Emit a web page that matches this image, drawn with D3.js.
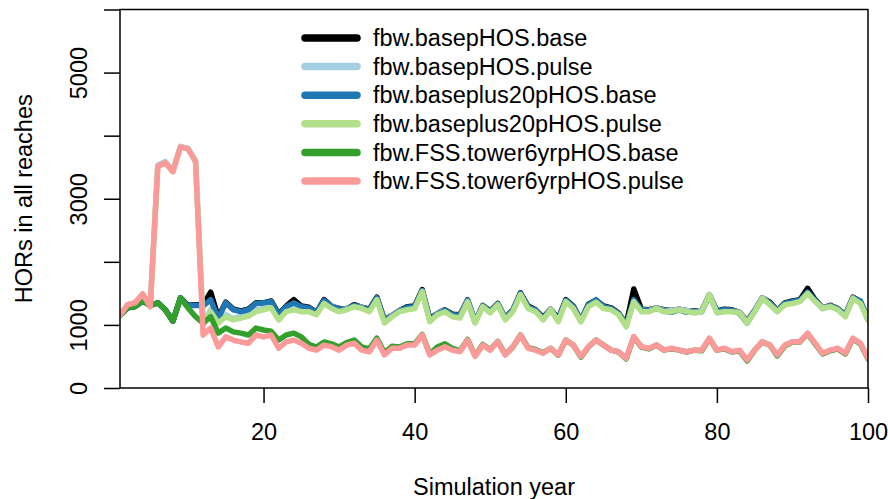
<!DOCTYPE html>
<html>
<head>
<meta charset="utf-8">
<script src="https://cdn.jsdelivr.net/npm/d3@7"></script>
<style>
  body { margin: 0; background: #fff; }
  text { font-family: "Liberation Sans", Arial, sans-serif; fill: #000; }
</style>
</head>
<body>
<div id="chart"></div>
<script>
// series names (legend order = draw order)
var seriesNames = ["fbw.basepHOS.base", "fbw.basepHOS.pulse", "fbw.baseplus20pHOS.base",
                   "fbw.baseplus20pHOS.pulse", "fbw.FSS.tower6yrpHOS.base", "fbw.FSS.tower6yrpHOS.pulse"];
var seriesColors = ["#000000", "#A6CEE3", "#1F78B4", "#B2DF8A", "#33A02C", "#FB9A99"];

var years = d3.range(1, 101);

var basepHOS_base = [1150,1270,1290,1380,1310,1350,1240,1060,1430,1310,1320,1320,1520,1120,1360,1250,1220,1250,1350,1350,
  1380,1170,1300,1400,1300,1280,1200,1400,1300,1260,1250,1320,1280,1250,1440,1080,1150,1230,1290,1300,
  1560,1100,1180,1240,1170,1160,1400,1060,1310,1220,1340,1110,1240,1510,1300,1240,1120,1250,1100,1400,
  1300,1070,1330,1390,1300,1270,1190,1010,1570,1250,1240,1270,1240,1230,1250,1230,1220,1230,1480,1220,
  1250,1240,1200,1060,1230,1430,1360,1230,1350,1380,1400,1580,1400,1270,1310,1260,1160,1440,1370,1100];

var basepHOS_pulse = [1150,1320,1350,1490,1290,3530,3590,3450,3830,3800,3600,1020,1240,1060,1160,1100,1140,1160,1240,1260,
  1290,1100,1230,1260,1230,1240,1200,1360,1300,1240,1260,1300,1280,1230,1420,1060,1150,1230,1260,1280,
  1540,1070,1180,1230,1150,1150,1390,1060,1300,1210,1330,1100,1230,1490,1280,1230,1100,1250,1070,1380,
  1280,1070,1300,1370,1280,1250,1180,990,1380,1240,1230,1270,1230,1230,1250,1230,1210,1230,1480,1210,
  1230,1230,1200,1050,1230,1430,1340,1230,1330,1350,1380,1510,1380,1270,1300,1250,1150,1430,1350,1100];

var baseplus20_base = [1150,1270,1290,1380,1310,1350,1240,1060,1430,1300,1310,1300,1400,1100,1350,1240,1210,1240,1340,1350,
  1370,1160,1290,1350,1290,1270,1190,1390,1290,1250,1250,1310,1270,1240,1430,1070,1140,1220,1280,1290,
  1540,1080,1170,1230,1160,1140,1390,1040,1300,1210,1330,1100,1230,1500,1290,1230,1100,1240,1080,1390,
  1290,1060,1320,1400,1290,1260,1180,990,1400,1240,1220,1260,1220,1200,1240,1200,1200,1210,1470,1220,
  1240,1230,1180,1030,1220,1420,1340,1220,1340,1370,1390,1520,1390,1260,1300,1250,1150,1420,1380,1080];

var baseplus20_pulse = [1150,1320,1350,1490,1290,3510,3570,3430,3820,3790,3590,1000,1210,1030,1130,1080,1110,1140,1210,1240,
  1270,1080,1210,1240,1210,1210,1160,1340,1260,1210,1240,1290,1260,1210,1400,1030,1130,1210,1240,1260,
  1530,1050,1160,1210,1130,1110,1370,1030,1290,1190,1320,1080,1210,1480,1260,1210,1080,1240,1050,1370,
  1260,1050,1290,1360,1260,1240,1160,970,1370,1210,1210,1260,1210,1210,1240,1210,1190,1210,1480,1190,
  1210,1210,1190,1030,1210,1420,1320,1210,1320,1340,1370,1500,1370,1260,1290,1240,1130,1420,1340,1080];

var fss_base = [1150,1270,1290,1380,1310,1350,1240,1060,1430,1270,1130,1030,1130,870,950,890,870,840,950,920,
  900,760,840,870,810,690,650,730,700,650,720,760,650,620,790,560,660,650,700,700,
  850,540,650,700,630,590,770,510,690,610,740,530,650,840,640,610,560,630,520,760,
  680,490,650,760,680,600,570,460,810,650,620,680,600,620,600,570,600,590,780,600,
  620,570,590,430,600,730,680,510,670,730,730,860,700,540,590,620,540,780,700,460];

var fss_pulse = [1150,1320,1350,1490,1290,3510,3570,3430,3820,3790,3590,840,950,650,810,760,730,710,840,810,
  840,630,730,760,710,630,600,680,655,600,680,710,600,575,760,525,630,630,680,680,
  840,525,600,655,600,575,760,500,680,600,735,525,655,840,630,600,550,630,525,760,
  680,500,655,760,680,600,575,470,815,655,630,680,600,630,600,575,600,600,790,600,
  630,575,600,445,600,735,680,525,680,735,735,870,710,550,600,630,550,790,710,470];

var seriesValues = [basepHOS_base, basepHOS_pulse, baseplus20_base, baseplus20_pulse, fss_base, fss_pulse];

var xTicks = [20, 40, 60, 80, 100];
var yTicks = [0, 1000, 2000, 3000, 4000, 5000, 6000];
var yLabelled = [0, 1000, 3000, 5000];

// dimensions
var width = 888, height = 499;
var plot = {left: 120, right: 868, top: 9.5, bottom: 388};

var svg = d3.select("#chart")
  .append("svg")
    .attr("width", width)
    .attr("height", height);

var x = d3.scaleLinear()
  .domain([1, 100])
  .range([plot.left, plot.right]);

var y = d3.scaleLinear()
  .domain([0, 6000])
  .range([plot.bottom, plot.top]);

// x axis
var xAxis = svg.append("g")
  .attr("transform", "translate(0," + plot.bottom + ")")
  .call(d3.axisBottom(x).tickValues(xTicks).tickSize(15).tickFormat(d3.format("d")));
xAxis.select(".domain").remove();
xAxis.selectAll("line").attr("stroke", "#000").attr("stroke-width", 1.5);
xAxis.selectAll("text")
  .attr("y", 52)
  .attr("dy", 0)
  .style("font-size", "23.5px")
  .style("font-family", "Liberation Sans, Arial, sans-serif");

// y axis
var yAxis = svg.append("g")
  .attr("transform", "translate(" + plot.left + ",0)")
  .call(d3.axisLeft(y).tickValues(yTicks).tickSize(16)
    .tickFormat(function(d) { return yLabelled.indexOf(d) >= 0 ? d : ""; }));
yAxis.select(".domain").remove();
yAxis.selectAll("line").attr("stroke", "#000").attr("stroke-width", 1.5);
yAxis.selectAll("text")
  .attr("x", 0)
  .attr("y", 0)
  .attr("dy", 0)
  .attr("transform", "translate(-33,0) rotate(-90)")
  .attr("text-anchor", "middle")
  .style("font-size", "23.5px")
  .style("font-family", "Liberation Sans, Arial, sans-serif");

// lines
var line = d3.line()
  .x(function(d, i) { return x(years[i]); })
  .y(function(d) { return y(d); });

svg.append("defs").append("clipPath").attr("id", "clip")
  .append("rect")
    .attr("x", plot.left).attr("y", plot.top)
    .attr("width", plot.right - plot.left).attr("height", plot.bottom - plot.top);

svg.append("g")
  .attr("clip-path", "url(#clip)")
  .selectAll("path")
  .data(seriesValues)
  .enter()
  .append("path")
    .attr("d", line)
    .attr("fill", "none")
    .attr("stroke", function(d, i) { return seriesColors[i]; })
    .attr("stroke-width", 5.5)
    .attr("stroke-linejoin", "round")
    .attr("stroke-linecap", "round");

// box
svg.append("rect")
  .attr("x", plot.left)
  .attr("y", plot.top)
  .attr("width", plot.right - plot.left)
  .attr("height", plot.bottom - plot.top)
  .attr("fill", "none")
  .attr("stroke", "#000")
  .attr("stroke-width", 1.5);

// legend
var legend = svg.append("g");
seriesNames.forEach(function(name, i) {
  var ly = 38 + i * 28.6;
  legend.append("line")
    .attr("x1", 305).attr("x2", 357)
    .attr("y1", ly).attr("y2", ly)
    .attr("stroke", seriesColors[i])
    .attr("stroke-width", 7.5)
    .attr("stroke-linecap", "round");
  legend.append("text")
    .attr("x", 373)
    .attr("y", ly)
    .attr("dy", "0.35em")
    .style("font-size", "23.5px")
    .text(name);
});

// axis titles
svg.append("text")
  .attr("x", (plot.left + plot.right) / 2)
  .attr("y", 495)
  .attr("text-anchor", "middle")
  .style("font-size", "23.5px")
  .text("Simulation year");

svg.append("text")
  .attr("transform", "translate(32," + (plot.top + plot.bottom) / 2 + ") rotate(-90)")
  .attr("text-anchor", "middle")
  .style("font-size", "23.5px")
  .text("HORs in all reaches");
</script>
</body>
</html>
